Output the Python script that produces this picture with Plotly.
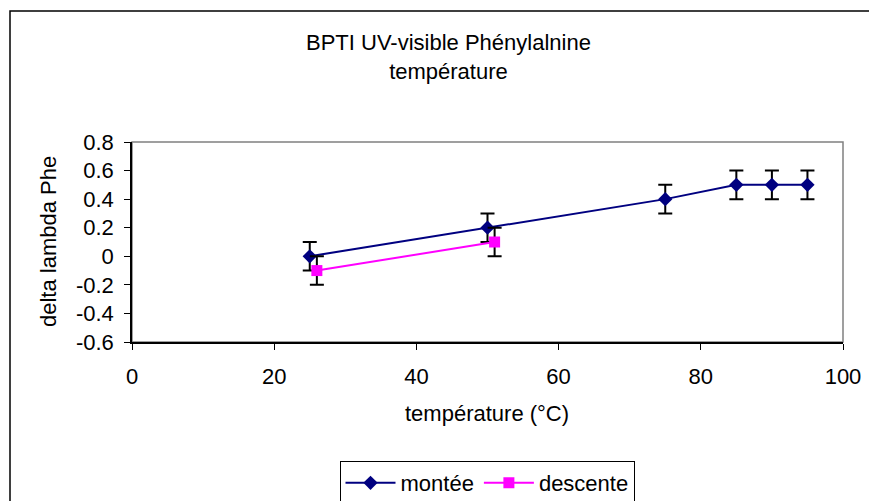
import plotly.graph_objects as go

# Data
montee_x = [25, 50, 75, 85, 90, 95]
montee_y = [0.0, 0.2, 0.4, 0.5, 0.5, 0.5]
montee_err = [0.1, 0.1, 0.1, 0.1, 0.1, 0.1]

descente_x = [26, 51]
descente_y = [-0.1, 0.1]
descente_err = [0.1, 0.1]

x_ticks = [0, 20, 40, 60, 80, 100]
x_ticklabels = ["0", "20", "40", "60", "80", "100"]
y_ticks = [-0.6, -0.4, -0.2, 0, 0.2, 0.4, 0.6, 0.8]
y_ticklabels = ["-0.6", "-0.4", "-0.2", "0", "0.2", "0.4", "0.6", "0.8"]

FONT = "Arial, Liberation Sans, sans-serif"
FS = 22

W, H = 869, 501
PL, PR, PT, PB = 132, 843, 142, 342
L, R, T, B = PL, W - PR, PT, H - PB
pw = PR - PL
ph = PB - PT

def fx(px):
    return (px - L) / pw

def fy(py):
    return (PB - py) / ph

fig = go.Figure()

fig.add_trace(go.Scatter(
    x=montee_x, y=montee_y, name="montée", mode="lines+markers",
    line=dict(color="#000080", width=2),
    marker=dict(symbol="diamond", size=11, color="#000080"),
    error_y=dict(type="data", array=montee_err, visible=True,
                 color="black", thickness=2, width=7),
))
fig.add_trace(go.Scatter(
    x=descente_x, y=descente_y, name="descente", mode="lines+markers",
    line=dict(color="#FF00FF", width=2),
    marker=dict(symbol="square", size=11, color="#FF00FF"),
    error_y=dict(type="data", array=descente_err, visible=True,
                 color="black", thickness=2, width=7),
))

fig.update_layout(
    width=W, height=H,
    margin=dict(l=L, r=R, t=T, b=B, autoexpand=False),
    paper_bgcolor="white", plot_bgcolor="white",
    font=dict(family=FONT, size=FS, color="black"),
    showlegend=True,
    legend=dict(
        orientation="h", x=fx(487), xanchor="center",
        y=fy(461), yanchor="top",
        bordercolor="black", borderwidth=1,
        font=dict(family=FONT, size=FS, color="black"),
        itemwidth=50,
    ),
    xaxis=dict(
        range=[0, 100], tickvals=x_ticks, ticktext=x_ticklabels,
        showgrid=False, zeroline=False,
        showline=True, linecolor="black", linewidth=1.5,
        ticks="outside", ticklen=6, tickcolor="black", tickwidth=1,
        ticklabelstandoff=8,
    ),
    yaxis=dict(
        range=[-0.6, 0.8], tickvals=y_ticks, ticktext=y_ticklabels,
        showgrid=False, zeroline=False,
        showline=True, linecolor="black", linewidth=1.5,
        ticks="outside", ticklen=6, tickcolor="black", tickwidth=1,
        ticklabelstandoff=6,
    ),
    shapes=[
        dict(type="rect", xref="paper", yref="paper", x0=0, y0=0, x1=1, y1=1,
             line=dict(color="#808080", width=1.5), layer="below"),
        dict(type="rect", xref="paper", yref="paper",
             x0=fx(10), y0=fy(560), x1=fx(900), y1=fy(11),
             line=dict(color="black", width=1.5), layer="below"),
    ],
    annotations=[
        dict(text="BPTI UV-visible Phénylalnine<br>température",
             xref="paper", yref="paper",
             x=fx(448), y=fy(57), xanchor="center", yanchor="middle",
             showarrow=False, font=dict(family=FONT, size=FS, color="black")),
        dict(text="température (°C)", xref="paper", yref="paper",
             x=fx(487), y=fy(413), xanchor="center", yanchor="middle",
             showarrow=False, font=dict(family=FONT, size=FS, color="black")),
        dict(text="delta lambda Phe", xref="paper", yref="paper",
             x=fx(48), y=fy(242), xanchor="center", yanchor="middle",
             textangle=-90, showarrow=False,
             font=dict(family=FONT, size=FS, color="black")),
    ],
)

fig.write_html(
    "out.html",
    config={"displayModeBar": False},
    post_script="document.body.style.margin='0';document.body.style.overflow='hidden';",
)
